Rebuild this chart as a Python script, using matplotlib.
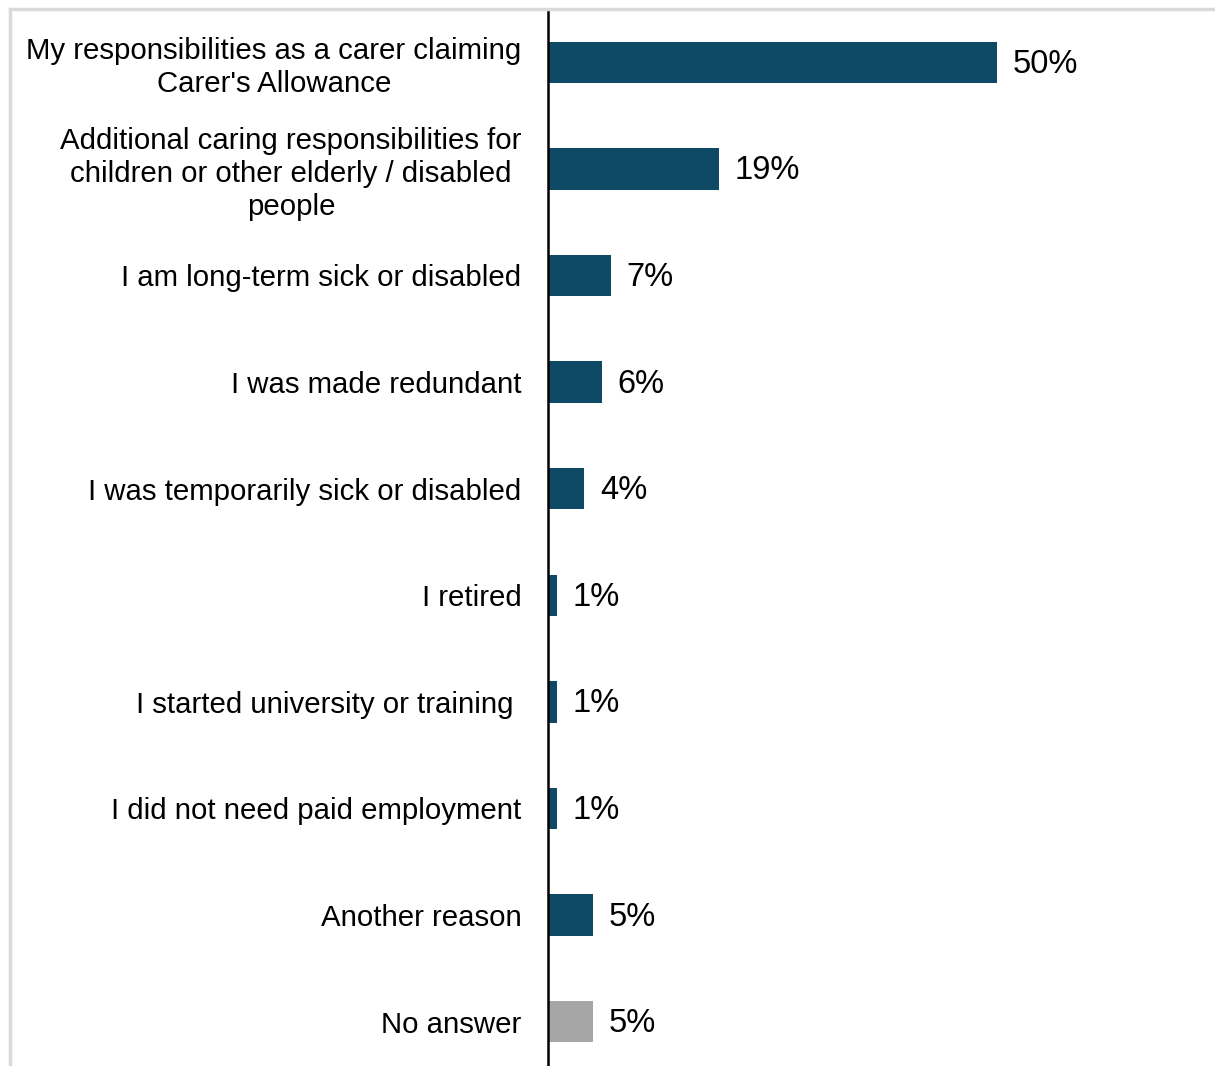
import matplotlib.pyplot as plt
from matplotlib.lines import Line2D

plt.rcParams["font.family"] = ["Liberation Sans", "DejaVu Sans"]

reasons = [
    "My responsibilities as a carer claiming\nCarer's Allowance",
    "Additional caring responsibilities for\nchildren or other elderly / disabled\npeople",
    "I am long-term sick or disabled",
    "I was made redundant",
    "I was temporarily sick or disabled",
    "I retired",
    "I started university or training ",
    "I did not need paid employment",
    "Another reason",
    "No answer",
]
shares = [50, 19, 7, 6, 4, 1, 1, 1, 5, 5]
bar_colors = ["#0e4a66"] * 9 + ["#a6a6a6"]

W, H = 1215, 1066
fig = plt.figure(figsize=(W / 100, H / 100), dpi=100)

# axes spans from the vertical axis line to the right edge, runs past the bottom
x0, top, bottom = 548, 9, 1075
ax = fig.add_axes([x0 / W, 1 - bottom / H, 1 - x0 / W, (bottom - top) / H])

n = len(shares)
ypos = list(range(n))
ax.barh(ypos, shares, height=0.39, color=bar_colors)
ax.set_ylim(n - 0.5, -0.5)
ax.set_xlim(0, (W - x0) / 8.98)

for y, v in zip(ypos, shares):
    ax.annotate(f"{v}%", (v, y), xytext=(11.5, -1.5), textcoords="offset points",
                ha="left", va="center", fontsize=23.5)

ax.set_yticks(ypos)
ax.set_yticklabels(reasons, fontsize=21.2, multialignment="center", linespacing=1.22)
ax.tick_params(axis="y", length=0, pad=19)
ax.set_xticks([])
for side in ["top", "right", "bottom"]:
    ax.spines[side].set_visible(False)
ax.spines["left"].set_linewidth(1.8)
ax.spines["left"].set_color("black")

# light frame on the top and left of the figure
fig.add_artist(Line2D([10 / W, 1], [1 - 9 / H, 1 - 9 / H], color="#d9d9d9", lw=2.5,
                      transform=fig.transFigure))
fig.add_artist(Line2D([10 / W, 10 / W], [0, 1 - 9 / H], color="#d9d9d9", lw=2.5,
                      transform=fig.transFigure))

fig.savefig("out.png", dpi=100)
